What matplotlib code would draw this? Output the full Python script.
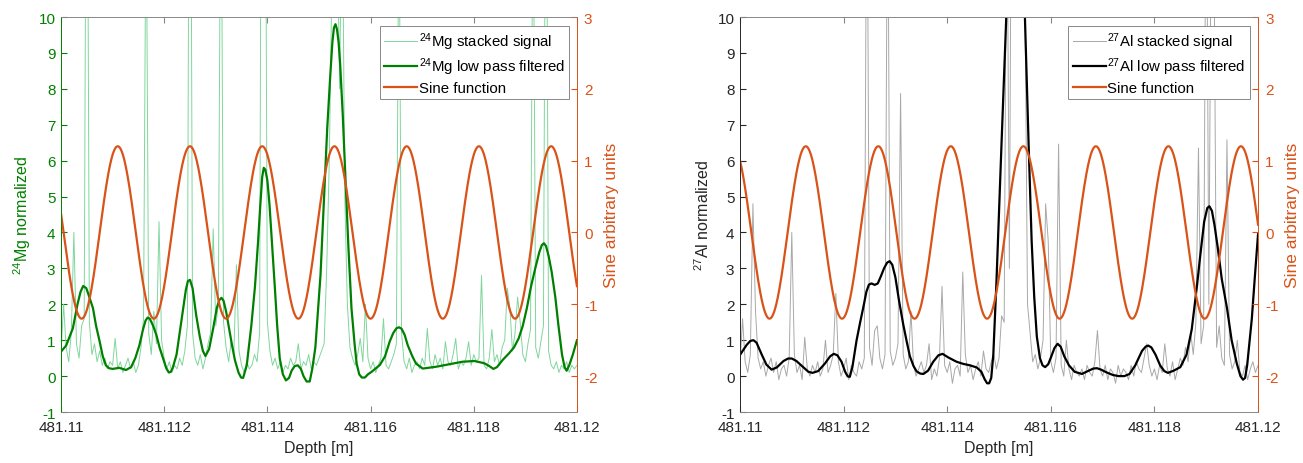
import numpy as np
import matplotlib
matplotlib.use("Agg")
import matplotlib.pyplot as plt

plt.rcParams['font.family'] = ['Liberation Sans', 'DejaVu Sans']
plt.rcParams['mathtext.default'] = 'regular'
plt.rcParams['axes.unicode_minus'] = False

# depth grid of the stacked signals (one sample every 0.05 mm)
depth_raw = np.linspace(481.11, 481.12, 201)

mg_stacked = [
    0.6, 2.0, 0.8, 0.4, 1.2, 4.0, 0.9, 0.5, 1.4, 1.6,
    20.0, 1.5, 0.6, 0.9, 0.4, 0.7, 0.3, 0.5, 0.2, 0.4,
    0.3, 1.05, 0.2, 0.4, 0.1, 0.3, 0.5, 0.2, 0.4, 0.1,
    0.3, 0.8, 1.6, 14.0, 1.2, 0.6, 1.8, 0.9, 4.3, 1.0,
    0.5, 0.2, 0.4, 0.1, 0.3, 0.2, 0.5, 0.3, 0.7, 1.4,
    22.0, 1.2, 0.5, 0.3, 0.6, 0.2, 0.5, 0.9, 1.2, 4.1,
    1.4, 2.0, 16.0, 1.5, 0.8, 0.4, 1.0, 0.6, 3.1, 0.7,
    0.3, 0.1, 0.4, 0.2, 0.3, 0.6, 0.4, 1.2, 25.0, 20.0,
    1.5, 0.7, 0.3, 0.5, 0.2, 0.4, 0.1, 0.3, 0.2, 0.5,
    0.3, 0.4, 0.9, 0.2, 0.4, 0.3, 0.6, 0.2, 0.4, 0.3,
    0.5, 0.7, 0.9, 3.0, 6.0, 11.0, 15.0, 13.0, 8.0, 14.0,
    5.0, 2.0, 0.8, 0.5, 0.3, 0.6, 1.05, 0.4, 2.0, 0.5,
    0.2, 0.4, 0.1, 0.3, 0.5, 1.6, 0.3, 0.2, 0.4, 0.6,
    0.9, 14.0, 1.2, 0.4, 0.2, 0.5, 0.1, 0.3, 0.4, 0.2,
    0.5, 0.3, 1.33, 0.4, 0.2, 0.6, 0.3, 0.5, 0.2, 0.96,
    0.4, 0.3, 0.6, 1.05, 0.2, 0.4, 0.3, 0.5, 0.96, 0.3,
    0.6, 0.4, 0.5, 2.8, 0.3, 0.2, 0.5, 1.3, 0.4, 0.6,
    0.3, 0.8, 1.0, 2.45, 1.9, 0.7, 1.2, 2.2, 1.5, 0.6,
    0.4, 0.9, 1.3, 15.0, 0.8, 0.5, 0.96, 1.4, 18.0, 0.7,
    0.3, 0.2, 0.4, 0.1, 0.3, 0.2, 0.4, 0.1, 0.3, 0.2, 0.3,
]

al_stacked = [
    0.3, 1.6, 0.4, 0.1, 0.6, 4.8, 1.8, 0.5, 0.2, 0.4,
    0.0, 0.3, 0.5, 0.1, 0.4, -0.1, 0.2, 0.3, 0.0, 0.5,
    4.0, 0.6, 0.1, 0.3, -0.1, 1.08, 0.2, 0.0, 0.3, 0.1,
    0.4, 0.0, 0.2, 1.0, 0.1, 0.3, 0.6, 2.3, 0.4, 0.0,
    0.2, 0.5, -0.1, 0.3, 0.1, 0.0, 0.4, 0.2, 0.5, 16.0,
    0.8, 0.3, 1.27, 1.4, 0.5, 0.2, 0.6, 15.0, 0.7, 0.3,
    0.5, 0.9, 7.87, 0.6, 0.2, 0.4, 1.8, 0.3, 0.0, 0.2,
    0.4, 0.1, 0.3, 0.9, -0.1, 0.2, 0.0, 0.5, 2.5, 0.3,
    0.1, 0.4, -0.2, 0.2, 0.3, 0.0, 2.9, 0.6, 0.1, 0.3,
    -0.1, 0.2, 0.4, 0.0, 0.7, 0.2, 0.1, 0.4, 0.6, 0.2,
    0.5, 1.68, 1.5, 15.0, 3.0, 18.0, 25.0, 20.0, 12.0, 16.0,
    11.0, 2.0, 1.2, 0.4, 0.6, 0.2, 0.5, 1.0, 4.8, 3.76,
    0.4, 0.1, 0.5, 6.46, 0.3, 0.0, 1.0, 0.2, -0.1, 0.3,
    0.1, 0.0, 0.2, -0.1, 0.3, 0.1, 0.0, 0.4, 1.27, 0.2,
    0.0, 0.3, -0.1, 0.2, 0.1, -0.2, 0.3, 0.0, 0.2, 0.1,
    -0.1, 0.3, 0.0, 0.4, 0.2, 0.1, 0.5, 0.9, 0.3, 0.0,
    0.2, -0.1, 0.3, 0.1, 0.9, 0.2, 0.0, 0.4, -0.1, 0.2,
    0.5, 0.3, 0.8, 0.4, 1.2, 0.6, 1.5, 6.35, 0.9, 1.4,
    16.0, 2.0, 14.0, 12.0, 0.8, 1.4, 0.5, 0.3, 6.58, 0.6,
    0.2, 0.4, 1.0, 0.1, 0.0, 0.3, -0.1, 0.2, 0.4, 0.1, 0.3,
]

# low pass filtered curves
mg_filt_depth = [
    481.11000, 481.11010, 481.11023, 481.11032, 481.11038, 481.11043, 481.11049,
    481.11055, 481.11062, 481.11068, 481.11075, 481.11081, 481.11087, 481.11093,
    481.11100, 481.11113, 481.11126, 481.11136, 481.11144, 481.11152, 481.11159,
    481.11164, 481.11168, 481.11172, 481.11178, 481.11185, 481.11191, 481.11198,
    481.11204, 481.11209, 481.11213, 481.11217, 481.11224, 481.11230, 481.11237,
    481.11242, 481.11246, 481.11250, 481.11255, 481.11262, 481.11269, 481.11275,
    481.11280, 481.11287, 481.11295, 481.11302, 481.11307, 481.11311, 481.11315,
    481.11320, 481.11326, 481.11331, 481.11337, 481.11344, 481.11349, 481.11353,
    481.11360, 481.11369, 481.11376, 481.11382, 481.11386, 481.11390, 481.11393,
    481.11396, 481.11400, 481.11404, 481.11409, 481.11415, 481.11419, 481.11424,
    481.11430, 481.11436, 481.11442, 481.11447, 481.11453, 481.11459, 481.11465,
    481.11470, 481.11476, 481.11482, 481.11487, 481.11493, 481.11503, 481.11510,
    481.11516, 481.11522, 481.11526, 481.11529, 481.11532, 481.11535, 481.11538,
    481.11541, 481.11546, 481.11551, 481.11557, 481.11563, 481.11569, 481.11573,
    481.11578, 481.11583, 481.11589, 481.11595, 481.11602, 481.11618, 481.11628,
    481.11637, 481.11644, 481.11650, 481.11655, 481.11660, 481.11666, 481.11672,
    481.11681, 481.11688, 481.11701, 481.11727, 481.11753, 481.11778, 481.11801,
    481.11820, 481.11830, 481.11838, 481.11845, 481.11856, 481.11868, 481.11878,
    481.11887, 481.11895, 481.11903, 481.11911, 481.11920, 481.11927, 481.11932,
    481.11936, 481.11940, 481.11945, 481.11951, 481.11958, 481.11964, 481.11971,
    481.11976, 481.11980, 481.11985, 481.11992, 481.12000,
]
mg_filt = [
    0.68, 0.85, 1.33, 2.0, 2.35, 2.51, 2.45,
    2.2, 1.89, 1.4, 0.96, 0.55, 0.3, 0.22,
    0.2, 0.23, 0.17, 0.25, 0.5, 0.86, 1.3,
    1.55, 1.63, 1.6, 1.42, 1.14, 0.8, 0.49,
    0.22, 0.1, 0.12, 0.25, 0.6, 1.2, 1.89,
    2.4, 2.65, 2.68, 2.45, 1.70, 1.1, 0.7,
    0.56, 0.75, 1.33, 1.9, 2.12, 2.18, 2.1,
    1.8, 1.3, 0.9, 0.45, 0.1, -0.04, -0.05,
    0.3, 1.42, 2.5, 3.75, 4.7, 5.55, 5.8,
    5.75, 5.45, 4.8, 3.7, 2.35, 1.4, 0.49,
    0.05, -0.12, -0.05, 0.15, 0.28, 0.3, 0.2,
    0.0, -0.15, -0.15, 0.2, 0.8, 2.82, 5.0,
    6.9, 8.4, 9.3, 9.7, 9.8, 9.65, 9.3,
    8.7, 7.3, 5.6, 3.6, 1.89, 0.9, 0.35,
    0.05, -0.04, -0.04, 0.05, 0.12, 0.31, 0.55,
    0.96, 1.2, 1.33, 1.36, 1.32, 1.15, 0.86,
    0.55, 0.35, 0.21, 0.26, 0.33, 0.40, 0.42,
    0.36, 0.28, 0.2, 0.25, 0.45, 0.63, 0.8,
    1.05, 1.4, 1.9, 2.5, 3.05, 3.45, 3.65,
    3.70, 3.62, 3.35, 2.9, 2.2, 1.42, 0.6,
    0.25, 0.15, 0.3, 0.6, 1.0,
]

al_filt_depth = [
    481.11000, 481.11013, 481.11020, 481.11026, 481.11032, 481.11042, 481.11051,
    481.11061, 481.11071, 481.11084, 481.11093, 481.11100, 481.11109, 481.11122,
    481.11132, 481.11140, 481.11151, 481.11164, 481.11174, 481.11181, 481.11188,
    481.11196, 481.11203, 481.11208, 481.11212, 481.11217, 481.11225, 481.11232,
    481.11238, 481.11244, 481.11249, 481.11254, 481.11260, 481.11266, 481.11272,
    481.11278, 481.11284, 481.11289, 481.11294, 481.11300, 481.11307, 481.11315,
    481.11322, 481.11328, 481.11335, 481.11341, 481.11348, 481.11354, 481.11363,
    481.11373, 481.11383, 481.11391, 481.11402, 481.11418, 481.11431, 481.11444,
    481.11457, 481.11466, 481.11472, 481.11477, 481.11481, 481.11485, 481.11489,
    481.11495, 481.11505, 481.11514, 481.11524, 481.11533, 481.11542, 481.11550,
    481.11557, 481.11563, 481.11568, 481.11573, 481.11579, 481.11584, 481.11589,
    481.11595, 481.11601, 481.11607, 481.11613, 481.11619, 481.11626, 481.11635,
    481.11646, 481.11660, 481.11673, 481.11682, 481.11689, 481.11697, 481.11708,
    481.11720, 481.11731, 481.11742, 481.11752, 481.11763, 481.11776, 481.11783,
    481.11788, 481.11794, 481.11802, 481.11811, 481.11819, 481.11826, 481.11837,
    481.11850, 481.11862, 481.11872, 481.11882, 481.11888, 481.11896, 481.11902,
    481.11906, 481.11911, 481.11916, 481.11922, 481.11930, 481.11940, 481.11949,
    481.11959, 481.11966, 481.11971, 481.11975, 481.11979, 481.11988, 481.11994,
    481.12000,
]
al_filt = [
    0.59, 0.87, 0.98, 1.0, 0.93, 0.6, 0.32,
    0.18, 0.24, 0.42, 0.49, 0.49, 0.42, 0.25,
    0.12, 0.09, 0.14, 0.35, 0.55, 0.62, 0.58,
    0.4, 0.12, -0.01, -0.02, 0.25, 0.99, 1.5,
    1.91, 2.35, 2.55, 2.58, 2.54, 2.58, 2.78,
    3.0, 3.16, 3.2, 3.1, 2.75, 2.1, 1.45,
    0.95, 0.55, 0.28, 0.13, 0.07, 0.06, 0.15,
    0.4, 0.58, 0.62, 0.52, 0.4, 0.34, 0.3,
    0.24, 0.12, -0.08, -0.2, -0.2, -0.05, 0.6,
    2.6, 6.53, 10.0, 12.5, 13.5, 12.5, 10.0,
    6.53, 3.76, 2.2, 1.1, 0.5, 0.3, 0.25,
    0.33, 0.55, 0.78, 0.90, 0.82, 0.55, 0.3,
    0.12, 0.06, 0.15, 0.21, 0.22, 0.18, 0.1,
    0.03, 0.0, 0.0, 0.06, 0.3, 0.7, 0.82,
    0.85, 0.8, 0.6, 0.3, 0.14, 0.09, 0.15,
    0.25, 0.6, 1.3, 2.5, 3.3, 4.3, 4.68,
    4.73, 4.6, 4.2, 3.6, 2.7, 1.9, 1.0,
    0.35, 0.0, -0.1, -0.05, 0.3, 1.6, 2.8,
    3.95,
]

# sine function: amplitude, period [m] and depth of first crest, per panel
sine_amp = 1.2
sine_period = 0.0014
mg_sine_crest = 481.1111
al_sine_crest = 481.11127

xticks = [481.11, 481.112, 481.114, 481.116, 481.118, 481.12]
xticklabels = ['481.11', '481.112', '481.114', '481.116', '481.118', '481.12']

orange = '#D95319'
dark = '#262626'


def panel(ax, raw, f_depth, f_vals, crest, name, raw_color, filt_color, lab_color):
    ax.plot(depth_raw, raw, color=raw_color, lw=0.7, label=name + ' stacked signal')
    ax.plot(f_depth, f_vals, color=filt_color, lw=1.6, label=name + ' low pass filtered',
            solid_joinstyle='round')
    ax.set_xlim(481.11, 481.12)
    ax.set_ylim(-1, 10)
    ax.set_yticks(range(-1, 11))
    ax.set_xticks(xticks)
    ax.set_xticklabels(xticklabels)
    ax.set_xlabel('Depth [m]', fontsize=11.5, color=dark, labelpad=4)
    ax.set_ylabel(name + ' normalized', fontsize=11.5, color=lab_color, labelpad=4)
    ax.tick_params(axis='x', direction='in', length=4, top=True, labelsize=11,
                   colors=dark, color='#888888', pad=6)
    ax.tick_params(axis='y', direction='in', length=4, labelsize=11,
                   colors=lab_color, color=lab_color, pad=4)

    axr = ax.twinx()
    depth = np.linspace(481.11, 481.12, 1001)
    sine = sine_amp * np.cos(2 * np.pi * (depth - crest) / sine_period)
    axr.plot(depth, sine, color=orange, lw=1.6, label='Sine function')
    axr.set_ylim(-2.5, 3)
    axr.set_yticks(range(-2, 4))
    axr.set_ylabel('Sine arbitrary units', fontsize=12.5, color=orange, labelpad=5)
    axr.tick_params(axis='y', direction='in', length=4, labelsize=11,
                    colors=orange, color=orange, pad=5)

    for a in (ax, axr):
        a.spines['top'].set_color('#888888')
        a.spines['bottom'].set_color('#888888')
        a.spines['left'].set_color(lab_color)
        a.spines['right'].set_color(orange)
        for s in a.spines.values():
            s.set_linewidth(0.6)

    h1, l1 = ax.get_legend_handles_labels()
    h2, l2 = axr.get_legend_handles_labels()
    leg = axr.legend(h1 + h2, l1 + l2, loc='upper right', bbox_to_anchor=(0.985, 0.978),
                     borderaxespad=0, fontsize=10.8, fancybox=False, framealpha=1,
                     edgecolor='#888888', handlelength=2.2, handletextpad=0.1,
                     labelspacing=0.25, borderpad=0.3)
    leg.get_frame().set_linewidth(0.7)


fig = plt.figure(figsize=(13.03, 4.64), dpi=100)
ax1 = fig.add_axes([0.0468, 0.1099, 0.396, 0.8513])
ax2 = fig.add_axes([0.5679, 0.1099, 0.3976, 0.8513])

panel(ax1, mg_stacked, mg_filt_depth, mg_filt, mg_sine_crest, r'$^{24}$Mg',
      '#80d69c', '#008000', '#008000')
panel(ax2, al_stacked, al_filt_depth, al_filt, al_sine_crest, r'$^{27}$Al',
      '#a8a8a8', 'black', dark)

fig.savefig('out.png', dpi=100)
